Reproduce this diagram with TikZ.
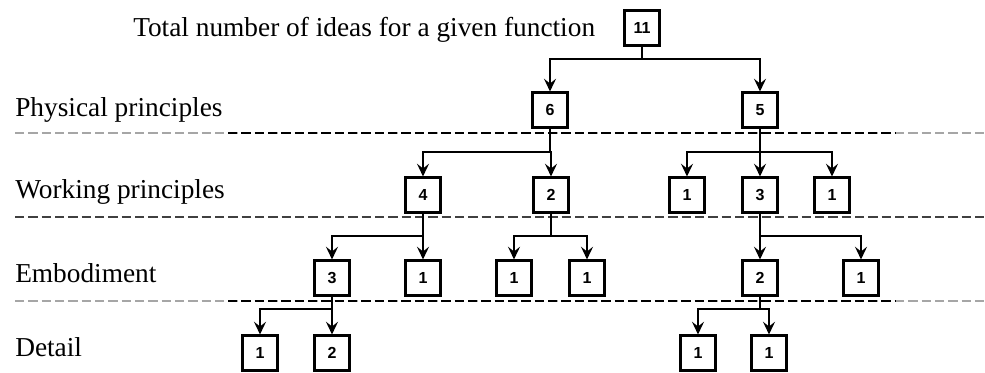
\documentclass[tikz,border=0pt]{standalone}
\usepackage{fontspec}
\setmainfont{Liberation Serif}
\newfontfamily\numfont{Liberation Sans}
\usetikzlibrary{arrows.meta}
\begin{document}
\begin{tikzpicture}[x=0.75pt, y=-0.75pt,
  numbox/.style={draw, line width=1.8pt, minimum size=26pt, inner sep=0pt, font=\numfont\bfseries\fontsize{12}{14}\selectfont},
  link/.style={line width=1.2pt, -{Stealth[length=9.5pt, width=9pt, inset=3.5pt]}},
  stem/.style={line width=1.2pt},
  lvl/.style={anchor=base west, inner sep=0pt, font=\fontsize{20.5}{24}\selectfont},
  sepgray/.style={gray!70, line width=1.4pt, dash pattern=on 7pt off 3pt},
  sepblack/.style={black, line width=2pt, dash pattern=on 7pt off 3pt}]
\useasboundingbox (0,0) rectangle (985,373);

% Level separators
\draw[sepgray] (15,133) -- (985,133);
\draw[sepblack] (228,133) -- (895,133);
\draw[black!75, line width=1.3pt, dash pattern=on 7pt off 3pt] (15,217) -- (985,217);
\draw[sepgray] (15,301) -- (985,301);
\draw[sepblack] (228,301) -- (895,301);

% Level labels
\node[lvl] (tTotal) at (133,37) {Total number of ideas for a given function};
\node[lvl] (tPhys) at (15,117) {Physical principles};
\node[lvl] (tWork) at (15,199) {Working principles};
\node[lvl] (tEmb) at (15,283) {Embodiment};
\node[lvl] (tDet) at (15,357) {Detail};

% Boxes
\node[numbox] (n0) at (642,28) {11};
\node[numbox] (p1) at (550,110) {6};
\node[numbox] (p2) at (760,110) {5};
\node[numbox] (w1) at (423,195) {4};
\node[numbox] (w2) at (551,195) {2};
\node[numbox] (w3) at (687,195) {1};
\node[numbox] (w4) at (760,195) {3};
\node[numbox] (w5) at (832,195) {1};
\node[numbox] (e1) at (332,278) {3};
\node[numbox] (e2) at (423,278) {1};
\node[numbox] (e3) at (514,278) {1};
\node[numbox] (e4) at (587,278) {1};
\node[numbox] (e5) at (760,278) {2};
\node[numbox] (e6) at (861,278) {1};
\node[numbox] (d1) at (260,353) {1};
\node[numbox] (d2) at (332,353) {2};
\node[numbox] (d3) at (698,353) {1};
\node[numbox] (d4) at (769,353) {1};

% Branch points
\coordinate (b0) at (n0.south |- 0,59);
\coordinate (b1) at (p1.south |- 0,152);
\coordinate (b2) at (p2.south |- 0,152);
\coordinate (c1) at (w1.south |- 0,236);
\coordinate (c2) at (w2.south |- 0,236);
\coordinate (c4) at (w4.south |- 0,236);
\coordinate (f1) at (e1.south |- 0,309);
\coordinate (f5) at (e5.south |- 0,309);

% Connectors
\draw[stem] (n0.south) -- (b0);
\draw[link] (b0) -| (p1.north);
\draw[link] (b0) -| (p2.north);
\draw[stem] (p1.south) -- (b1);
\draw[link] (b1) -| (w1.north);
\draw[link] (b1) -| (w2.north);
\draw[stem] (p2.south) -- (b2);
\draw[link] (b2) -| (w3.north);
\draw[link] (b2) -| (w4.north);
\draw[link] (b2) -| (w5.north);
\draw[stem] (w1.south) -- (c1);
\draw[link] (c1) -| (e1.north);
\draw[link] (c1) -| (e2.north);
\draw[stem] (w2.south) -- (c2);
\draw[link] (c2) -| (e3.north);
\draw[link] (c2) -| (e4.north);
\draw[stem] (w4.south) -- (c4);
\draw[link] (c4) -| (e5.north);
\draw[link] (c4) -| (e6.north);
\draw[stem] (e1.south) -- (f1);
\draw[link] (f1) -| (d1.north);
\draw[link] (f1) -| (d2.north);
\draw[stem] (e5.south) -- (f5);
\draw[link] (f5) -| (d3.north);
\draw[link] (f5) -| (d4.north);
\end{tikzpicture}
\end{document}
